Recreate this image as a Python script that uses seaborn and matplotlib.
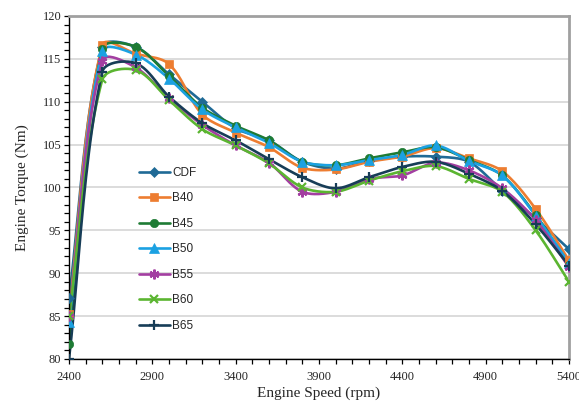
import numpy as np
import pandas as pd
import matplotlib
matplotlib.use("Agg")
import matplotlib.pyplot as plt
from matplotlib.lines import Line2D
from matplotlib.ticker import MultipleLocator
import seaborn as sns

speed = [2400, 2600, 2800, 3000, 3200, 3400, 3600, 3800, 4000, 4200, 4400, 4600, 4800, 5000, 5200, 5400]

cdf = [87.1, 116.4, 116.4, 113.2, 110.0, 106.9, 105.5, 103.0, 102.2, 103.1, 103.6, 103.6, 103.0, 99.6, 96.4, 92.8]
b40 = [85.3, 116.6, 115.6, 114.4, 108.5, 106.4, 104.7, 102.3, 102.1, 103.0, 103.6, 104.6, 103.4, 101.9, 97.5, 91.5]
b45 = [81.8, 116.2, 116.4, 113.0, 109.3, 107.2, 105.5, 103.0, 102.6, 103.4, 104.1, 104.7, 103.2, 101.4, 96.8, 91.0]
b50 = [84.3, 115.9, 115.5, 112.7, 109.1, 107.0, 105.2, 103.0, 102.6, 103.2, 103.8, 104.9, 103.1, 101.4, 96.7, 91.2]
b55 = [85.0, 114.8, 114.0, 110.4, 107.3, 104.9, 102.9, 99.5, 99.5, 101.0, 101.4, 102.9, 102.0, 99.9, 96.2, 90.7]
b60 = [85.0, 112.6, 113.7, 110.2, 106.8, 104.9, 102.8, 100.0, 99.5, 100.8, 101.9, 102.5, 101.0, 99.5, 95.0, 89.0]
b65 = [80.0, 113.5, 114.5, 110.6, 107.5, 105.5, 103.3, 101.2, 99.9, 101.2, 102.4, 103.0, 101.6, 99.6, 95.7, 90.9]

labels = ["CDF", "B40", "B45", "B50", "B55", "B60", "B65"]
series = [cdf, b40, b45, b50, b55, b60, b65]
colors = ["#1f6a96", "#ed7d31", "#1e7b34", "#1ba1e2", "#a33ea1", "#5bb531", "#173d57"]
markers = ["D", "s", "o", "^", (6, 2, 0), "x", "+"]
msizes = [5, 6, 6, 6.5, 7, 6, 7]

# approximate screen scale (px per data unit) used for shape-preserving smoothing
SX = 500.0 / 3000.0
SY = 343.0 / 40.0


def smooth(x, y, n=24, s=0.3):
    # Excel-like smoothing: cubic Bezier, tangents computed in screen space
    P = np.column_stack([np.asarray(x, float) * SX, np.asarray(y, float) * SY])
    m = len(P)
    t = np.linspace(0, 1, n, endpoint=False)[:, None]
    out = []

    def unit(v):
        nv = np.hypot(*v)
        return v / nv if nv > 0 else v

    for i in range(m - 1):
        p0 = P[i - 1] if i > 0 else P[i]
        p1 = P[i]
        p2 = P[i + 1]
        p3 = P[i + 2] if i + 2 < m else P[i + 1]
        d = np.hypot(*(p2 - p1))
        c1 = p1 + unit(p2 - p0) * d * s
        c2 = p2 - unit(p3 - p1) * d * s
        seg = ((1 - t) ** 3) * p1 + 3 * ((1 - t) ** 2) * t * c1 + 3 * (1 - t) * t ** 2 * c2 + t ** 3 * p2
        out.append(seg)
    out.append(P[-1:])
    out = np.vstack(out)
    return out[:, 0] / SX, out[:, 1] / SY


sns.set_theme(style="white")
plt.rcParams["font.family"] = ["Liberation Serif", "DejaVu Serif"]

fig = plt.figure(figsize=(5.79, 4.08), dpi=100)
ax = fig.add_axes([69 / 579, 1 - 359 / 408, 500 / 579, 343 / 408])

for lab, ys, c, mk, ms in zip(labels, series, colors, markers, msizes):
    sx, sy = smooth(speed, ys)
    df = pd.DataFrame({"x": sx, "y": sy})
    sns.lineplot(data=df, x="x", y="y", color=c, linewidth=1.9, ax=ax, sort=False, estimator=None)
    mew = 1.6 if mk in ("x", "+", (6, 2, 0)) else 0.5
    ax.plot(speed, ys, linestyle="none", marker=mk, markersize=ms, color=c,
            markeredgecolor=c, markeredgewidth=mew, zorder=3)

ax.set_xlim(2400, 5400)
ax.set_ylim(80, 120)
ax.set_xticks([2400, 2900, 3400, 3900, 4400, 4900, 5400])
ax.xaxis.set_minor_locator(MultipleLocator(100))
ax.set_yticks(range(80, 121, 5))
ax.yaxis.set_minor_locator(MultipleLocator(1))
ax.grid(axis="y", which="major", color="#d9d9d9", linewidth=1.3)
ax.grid(axis="x", visible=False)
ax.set_axisbelow(True)

for s in ["left", "bottom"]:
    ax.spines[s].set_color("black")
    ax.spines[s].set_linewidth(1.0)
for s in ["top", "right"]:
    ax.spines[s].set_color("#a0a0a0")
    ax.spines[s].set_linewidth(2.0)

ax.tick_params(axis="both", which="both", direction="out", length=3.5, width=0.9,
               color="black", labelsize=9, pad=2, top=False, right=False, left=True, bottom=True)
ax.tick_params(axis="x", pad=5)

ax.set_xlabel("Engine Speed (rpm)", fontsize=11, labelpad=3)
ax.set_ylabel("Engine Torque (Nm)", fontsize=11, labelpad=10)

handles = []
for lab, c, mk, ms in zip(labels, colors, markers, msizes):
    mew = 1.6 if mk in ("x", "+", (6, 2, 0)) else 0.5
    handles.append(Line2D([0], [0], color=c, lw=1.9, marker=mk, markersize=ms,
                          markeredgecolor=c, markeredgewidth=mew))
fig.legend(handles, labels, loc="upper left", bbox_to_anchor=(139 / 579, 1 - 167 / 408),
           frameon=False, prop={"family": ["Liberation Sans", "DejaVu Sans"], "size": 8.5},
           handlelength=2.6, handletextpad=0.2, labelspacing=1.14, borderpad=0, borderaxespad=0)

fig.savefig("out.png", dpi=100)
